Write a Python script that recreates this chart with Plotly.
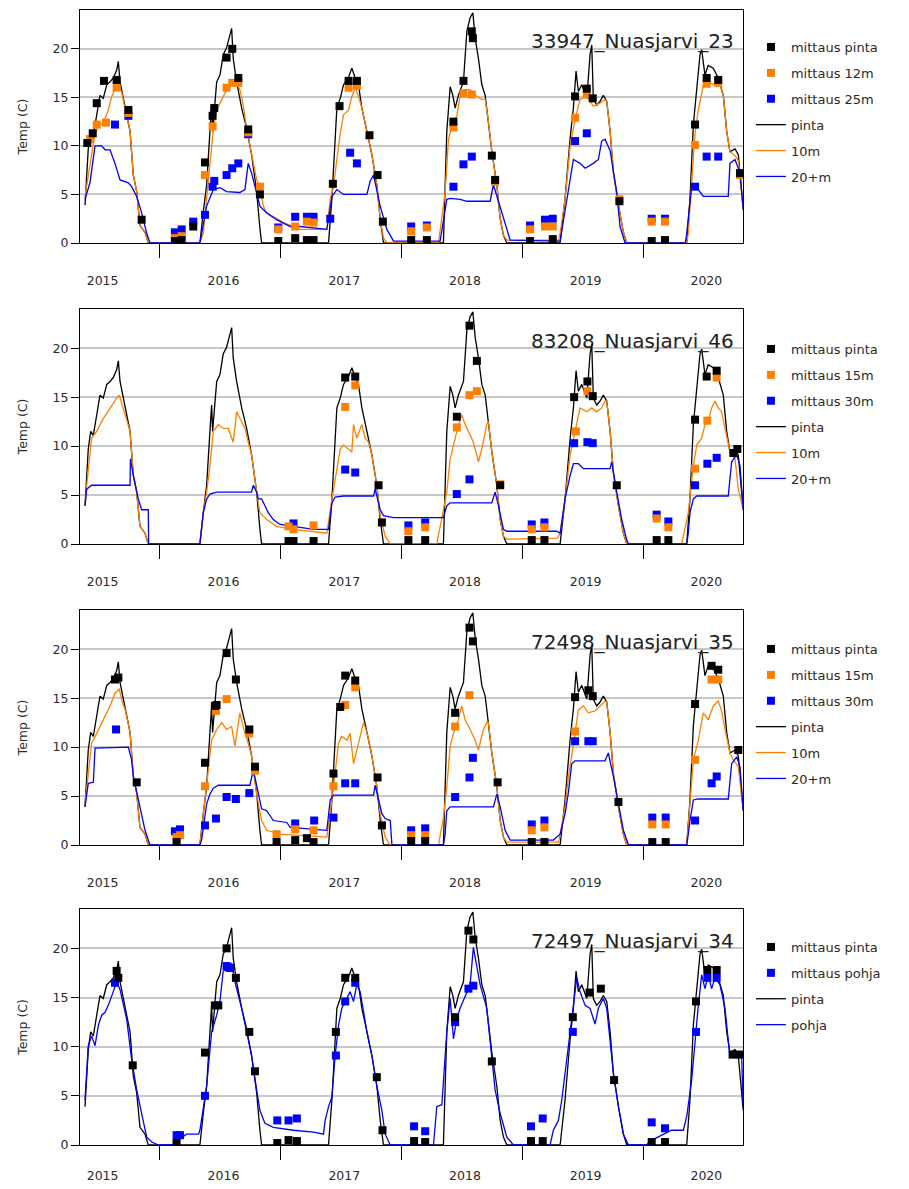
import plotly.graph_objects as go
from datetime import datetime, timedelta

# ---------------- DATA (decimal year, temperature C) ----------------
SURF = [(2015.379, 3.9), (2015.406, 9.7), (2015.426, 11.5), (2015.448, 11.1), (2015.476, 13.2), (2015.503, 15.2),
        (2015.530, 14.9), (2015.559, 16.3), (2015.586, 16.6), (2015.613, 17.0), (2015.641, 17.8), (2015.655, 18.7),
        (2015.669, 16.6), (2015.710, 13.9), (2015.752, 11.5), (2015.779, 7.0), (2015.807, 5.3), (2015.834, 1.8),
        (2015.876, 1.1), (2015.903, 0), (2016.331, 0), (2016.359, 3.2), (2016.387, 6.0), (2016.414, 11.5),
        (2016.428, 14.2), (2016.436, 11.5), (2016.470, 16.6), (2016.497, 17.3), (2016.524, 19.4), (2016.552, 20.1),
        (2016.566, 20.8), (2016.594, 22.1), (2016.607, 19.0), (2016.635, 16.6), (2016.677, 13.9), (2016.718, 11.8),
        (2016.759, 9.1), (2016.801, 5.3), (2016.828, 1.5), (2016.842, 0), (2017.394, 0), (2017.422, 4.6),
        (2017.463, 13.9), (2017.491, 14.9), (2017.518, 16.3), (2017.560, 17.1), (2017.587, 18.0), (2017.615, 17.0),
        (2017.642, 16.3), (2017.670, 13.9), (2017.712, 11.5), (2017.753, 9.1), (2017.794, 6.0), (2017.822, 2.5),
        (2017.849, 0), (2018.346, 0), (2018.374, 11.5), (2018.402, 16.1), (2018.424, 15.2), (2018.443, 13.9),
        (2018.470, 15.2), (2018.512, 16.6), (2018.540, 21.8), (2018.567, 23.2), (2018.590, 23.7), (2018.609, 21.1),
        (2018.636, 19.0), (2018.664, 16.3), (2018.692, 15.2), (2018.719, 12.5), (2018.747, 9.4), (2018.788, 6.0),
        (2018.816, 2.5), (2018.843, 0.8), (2018.871, 0), (2019.313, 0), (2019.354, 4.6), (2019.396, 10.8),
        (2019.423, 13.9), (2019.445, 17.7), (2019.464, 15.6), (2019.492, 16.3), (2019.534, 14.9), (2019.561, 19.4),
        (2019.575, 20.4), (2019.588, 14.9), (2019.616, 14.2), (2019.644, 14.6), (2019.671, 15.2), (2019.699, 14.6),
        (2019.727, 11.5), (2019.754, 7.3), (2019.796, 3.9), (2019.837, 1.1), (2019.865, 0), (2020.362, 0),
        (2020.389, 4.6), (2020.417, 12.2), (2020.445, 15.6), (2020.472, 19.4), (2020.486, 19.9), (2020.513, 17.3),
        (2020.540, 18.3), (2020.582, 18.0), (2020.623, 17.0), (2020.665, 15.2), (2020.693, 11.5), (2020.720, 9.4),
        (2020.762, 9.7), (2020.789, 9.1), (2020.830, 3.5)]

# Panel 1: 33947_Nuasjarvi_23
P1_10M = [(2015.379, 4.8), (2015.393, 5.8), (2015.406, 6.9), (2015.462, 11.3), (2015.490, 12.0), (2015.530, 12.4),
          (2015.572, 13.7), (2015.600, 15.1), (2015.627, 15.8), (2015.655, 16.3), (2015.683, 15.5), (2015.710, 13.9),
          (2015.752, 11.5), (2015.779, 7.0), (2015.807, 5.3), (2015.834, 1.8), (2015.876, 1.1), (2015.903, 0),
          (2016.331, 0), (2016.359, 1.0), (2016.387, 4.5), (2016.414, 7.9), (2016.442, 11.7), (2016.470, 13.7),
          (2016.511, 14.8), (2016.552, 15.8), (2016.594, 16.2), (2016.635, 16.5), (2016.662, 15.8), (2016.690, 14.2),
          (2016.718, 11.8), (2016.759, 9.1), (2016.801, 6.5), (2016.828, 5.8), (2016.856, 3.8), (2016.884, 3.1),
          (2016.939, 2.7), (2017.022, 2.1), (2017.160, 1.4), (2017.380, 1.4), (2017.408, 4.5), (2017.435, 5.8),
          (2017.463, 8.6), (2017.491, 11.3), (2017.518, 13.2), (2017.560, 13.7), (2017.587, 15.1), (2017.615, 16.0),
          (2017.642, 15.1), (2017.670, 13.9), (2017.712, 11.5), (2017.753, 9.1), (2017.794, 6.0), (2017.822, 2.5),
          (2017.849, 0.5), (2017.880, 0), (2018.305, 0), (2018.333, 2.7), (2018.360, 5.2), (2018.388, 10.7),
          (2018.415, 12.0), (2018.457, 13.1), (2018.484, 15.1), (2018.512, 15.8), (2018.567, 15.8), (2018.623, 15.1),
          (2018.664, 14.8), (2018.692, 14.8), (2018.719, 12.5), (2018.747, 9.4), (2018.788, 6.0), (2018.816, 2.5),
          (2018.843, 0.8), (2018.871, 0.3), (2019.300, 0.3), (2019.313, 1.0), (2019.354, 4.5), (2019.396, 10.0),
          (2019.437, 12.7), (2019.478, 14.8), (2019.534, 15.1), (2019.588, 14.1), (2019.644, 14.4), (2019.685, 14.8),
          (2019.699, 14.6), (2019.727, 11.5), (2019.754, 7.3), (2019.796, 3.9), (2019.837, 1.1), (2019.865, 0),
          (2020.362, 0), (2020.375, 1.0), (2020.403, 5.8), (2020.431, 11.3), (2020.458, 13.7), (2020.499, 16.2),
          (2020.555, 16.5), (2020.610, 16.2), (2020.637, 16.3), (2020.665, 15.2), (2020.693, 11.5), (2020.720, 9.4),
          (2020.762, 9.0), (2020.789, 8.5), (2020.830, 3.5)]
P1_20M = [(2015.379, 4.5), (2015.420, 6.2), (2015.462, 10.0), (2015.517, 10.0), (2015.545, 9.6), (2015.586, 9.6),
          (2015.627, 8.2), (2015.669, 6.5), (2015.738, 6.2), (2015.765, 5.8), (2015.807, 4.8), (2015.848, 3.1),
          (2015.890, 1.0), (2015.917, 0), (2016.331, 0), (2016.387, 3.8), (2016.442, 5.5), (2016.497, 5.7),
          (2016.552, 5.3), (2016.662, 5.2), (2016.704, 5.5), (2016.731, 8.2), (2016.759, 7.2), (2016.801, 5.3),
          (2016.828, 3.8), (2016.884, 3.1), (2016.966, 2.4), (2017.077, 1.7), (2017.160, 1.7), (2017.380, 1.4),
          (2017.422, 4.8), (2017.463, 5.5), (2017.518, 5.0), (2017.712, 5.0), (2017.739, 6.4), (2017.767, 7.0),
          (2017.822, 3.8), (2017.877, 1.4), (2017.932, 0.2), (2018.319, 0.2), (2018.374, 4.5), (2018.402, 4.6),
          (2018.484, 4.5), (2018.540, 4.3), (2018.733, 4.3), (2018.760, 6.0), (2018.816, 3.8), (2018.871, 1.4),
          (2018.899, 0.3), (2019.313, 0.2), (2019.354, 3.4), (2019.396, 6.9), (2019.423, 8.6), (2019.478, 8.2),
          (2019.520, 7.7), (2019.588, 8.2), (2019.630, 8.6), (2019.657, 10.5), (2019.685, 10.7), (2019.727, 9.5),
          (2019.754, 7.3), (2019.782, 5.2), (2019.809, 1.7), (2019.851, 0), (2020.350, 0), (2020.362, 1.0),
          (2020.403, 5.8), (2020.458, 5.5), (2020.499, 4.8), (2020.706, 4.8), (2020.720, 8.2), (2020.762, 8.6),
          (2020.803, 7.2), (2020.830, 3.4)]
P1_M_PINTA = [(2015.398, 10.3), (2015.443, 11.3), (2015.476, 14.4), (2015.536, 16.7), (2015.641, 16.8),
              (2015.738, 13.7), (2015.848, 2.4), (2016.124, 0.2), (2016.180, 0.3), (2016.276, 1.7), (2016.373, 8.3),
              (2016.436, 13.1), (2016.450, 13.9), (2016.552, 19.1), (2016.599, 20.0), (2016.649, 17.0),
              (2016.731, 11.7), (2016.828, 5.0), (2016.980, 0.2), (2017.118, 0.5), (2017.215, 0.3), (2017.270, 0.3),
              (2017.430, 6.1), (2017.485, 14.1), (2017.560, 16.7), (2017.629, 16.7), (2017.733, 11.1),
              (2017.800, 7.0), (2017.844, 2.2), (2018.079, 0.3), (2018.209, 0.3), (2018.429, 12.5), (2018.512, 16.7),
              (2018.581, 21.8), (2018.590, 21.1), (2018.747, 9.0), (2018.774, 6.5), (2019.064, 0.2), (2019.252, 0.4),
              (2019.437, 15.1), (2019.534, 15.9), (2019.583, 14.9), (2019.804, 4.3), (2020.072, 0.2),
              (2020.182, 0.3), (2020.431, 12.2), (2020.527, 17.0), (2020.623, 16.8), (2020.803, 7.2)]
P1_M_12M = [(2015.420, 10.7), (2015.476, 12.2), (2015.553, 12.4), (2015.641, 16.0), (2015.738, 13.4),
            (2016.124, 0.5), (2016.180, 0.7), (2016.373, 7.0), (2016.436, 12.0), (2016.552, 16.0), (2016.599, 16.5),
            (2016.649, 16.5), (2016.731, 11.4), (2016.828, 5.8), (2016.980, 1.4), (2017.118, 1.7), (2017.215, 2.2),
            (2017.270, 2.1), (2017.560, 16.0), (2017.629, 16.2), (2018.079, 1.2), (2018.209, 1.6), (2018.429, 11.9),
            (2018.512, 15.4), (2018.581, 15.3), (2018.774, 6.3), (2019.064, 1.4), (2019.188, 1.7), (2019.252, 1.7),
            (2019.437, 12.9), (2019.534, 15.3), (2019.804, 4.5), (2020.072, 2.2), (2020.182, 2.2), (2020.431, 10.1),
            (2020.527, 16.4), (2020.623, 16.5), (2020.803, 7.0)]
P1_M_25M = [(2015.627, 12.2), (2015.738, 13.1), (2016.124, 1.1), (2016.180, 1.4), (2016.276, 2.2), (2016.373, 2.9),
            (2016.436, 5.8), (2016.450, 6.4), (2016.552, 7.0), (2016.599, 7.7), (2016.649, 8.2), (2016.731, 11.2),
            (2016.980, 1.6), (2017.118, 2.7), (2017.215, 2.7), (2017.270, 2.7), (2017.408, 2.5), (2017.573, 9.3),
            (2017.629, 8.2), (2018.079, 1.7), (2018.209, 1.8), (2018.429, 5.8), (2018.512, 8.1), (2018.581, 8.9),
            (2019.064, 1.8), (2019.188, 2.4), (2019.252, 2.5), (2019.437, 10.5), (2019.534, 11.3), (2020.072, 2.5),
            (2020.182, 2.5), (2020.431, 5.8), (2020.527, 8.9), (2020.623, 8.9)]

# Panel 2: 83208_Nuasjarvi_46
P2_10M = [(2015.379, 3.9), (2015.393, 6.0), (2015.434, 10.8), (2015.476, 11.5), (2015.530, 12.8), (2015.586, 13.9),
          (2015.641, 14.9), (2015.663, 15.2), (2015.690, 14.0), (2015.724, 12.5), (2015.752, 11.5), (2015.779, 7.0),
          (2015.807, 5.3), (2015.834, 1.8), (2015.876, 1.1), (2015.903, 0), (2016.331, 0), (2016.359, 3.2),
          (2016.387, 5.3), (2016.414, 8.0), (2016.442, 11.5), (2016.483, 12.2), (2016.524, 11.8), (2016.566, 11.8),
          (2016.607, 10.4), (2016.635, 13.5), (2016.662, 12.8), (2016.704, 11.8), (2016.731, 10.4), (2016.759, 9.1),
          (2016.801, 5.3), (2016.828, 3.2), (2016.884, 2.5), (2016.966, 1.8), (2017.104, 1.5), (2017.242, 1.3),
          (2017.380, 1.1), (2017.422, 4.6), (2017.449, 6.6), (2017.491, 9.7), (2017.518, 10.1), (2017.560, 9.7),
          (2017.587, 9.4), (2017.601, 12.2), (2017.628, 10.8), (2017.670, 12.2), (2017.698, 10.8), (2017.725, 10.4),
          (2017.753, 9.1), (2017.794, 6.0), (2017.822, 2.9), (2017.863, 0.8), (2017.905, 0), (2018.291, 0),
          (2018.333, 2.9), (2018.374, 5.3), (2018.402, 8.7), (2018.429, 10.1), (2018.457, 11.5), (2018.497, 13.2),
          (2018.526, 12.2), (2018.553, 11.5), (2018.594, 10.4), (2018.636, 8.4), (2018.664, 9.7), (2018.705, 12.2),
          (2018.719, 12.5), (2018.747, 9.4), (2018.788, 6.0), (2018.816, 2.5), (2018.843, 0.8), (2018.871, 0.5),
          (2019.290, 0.6), (2019.313, 1.1), (2019.354, 4.6), (2019.396, 9.1), (2019.423, 10.8), (2019.451, 12.2),
          (2019.478, 13.9), (2019.534, 13.5), (2019.575, 13.9), (2019.616, 13.5), (2019.657, 13.9), (2019.685, 14.6),
          (2019.699, 14.6), (2019.727, 11.5), (2019.754, 7.3), (2019.796, 3.9), (2019.837, 1.1), (2019.865, 0),
          (2020.320, 0), (2020.334, 0.8), (2020.375, 3.2), (2020.417, 8.0), (2020.445, 10.1), (2020.486, 10.8),
          (2020.513, 12.2), (2020.540, 12.5), (2020.568, 13.9), (2020.596, 14.6), (2020.623, 13.9), (2020.651, 13.5),
          (2020.679, 11.8), (2020.720, 9.4), (2020.762, 8.7), (2020.789, 5.6), (2020.830, 3.5)]
P2_20M = [(2015.379, 3.9), (2015.393, 5.6), (2015.434, 6.0), (2015.752, 6.0), (2015.755, 8.7), (2015.779, 7.0),
          (2015.820, 4.6), (2015.848, 3.5), (2015.903, 3.5), (2015.906, 0), (2016.331, 0), (2016.359, 3.2),
          (2016.387, 4.6), (2016.414, 5.1), (2016.470, 5.3), (2016.759, 5.3), (2016.773, 6.0), (2016.801, 5.3),
          (2016.814, 4.6), (2016.842, 4.6), (2016.870, 3.9), (2016.897, 3.2), (2016.939, 2.5), (2016.994, 2.0),
          (2017.104, 1.8), (2017.270, 1.5), (2017.394, 1.5), (2017.422, 4.2), (2017.449, 4.8), (2017.518, 4.9),
          (2017.767, 4.9), (2017.780, 5.6), (2017.822, 3.5), (2017.849, 2.9), (2017.932, 2.7), (2018.346, 2.7),
          (2018.374, 3.9), (2018.402, 4.2), (2018.747, 4.2), (2018.774, 5.3), (2018.802, 3.9), (2018.843, 1.5),
          (2018.871, 1.3), (2019.285, 1.3), (2019.313, 1.1), (2019.354, 4.6), (2019.396, 7.0), (2019.423, 8.2),
          (2019.464, 8.2), (2019.506, 7.7), (2019.727, 7.7), (2019.740, 8.4), (2019.782, 5.3), (2019.823, 2.5),
          (2019.865, 0.4), (2019.880, 0), (2020.362, 0), (2020.375, 1.1), (2020.389, 3.2), (2020.417, 4.6),
          (2020.445, 4.9), (2020.706, 4.9), (2020.734, 8.4), (2020.776, 9.1), (2020.803, 8.0), (2020.830, 3.5)]
P2_M_PINTA = [(2017.063, 0.3), (2017.104, 0.3), (2017.270, 0.3), (2017.532, 17.0), (2017.615, 17.1),
              (2017.808, 6.0), (2017.836, 2.2), (2018.056, 0.4), (2018.195, 0.4), (2018.457, 13.0), (2018.562, 22.3),
              (2018.623, 18.7), (2018.816, 6.0), (2019.078, 0.4), (2019.183, 0.4), (2019.429, 15.0),
              (2019.539, 16.6), (2019.583, 15.1), (2019.782, 6.0), (2020.113, 0.4), (2020.210, 0.4),
              (2020.431, 12.7), (2020.527, 17.1), (2020.610, 17.7), (2020.748, 9.3), (2020.781, 9.7)]
P2_M_15M = [(2017.063, 1.8), (2017.104, 1.5), (2017.270, 1.9), (2017.532, 14.0), (2017.615, 16.2), (2018.056, 1.3),
            (2018.195, 1.7), (2018.457, 11.9), (2018.562, 15.2), (2018.623, 15.6), (2018.816, 6.1), (2019.078, 1.5),
            (2019.183, 1.7), (2019.443, 11.5), (2019.539, 15.6), (2020.113, 2.6), (2020.210, 1.7), (2020.431, 7.7),
            (2020.533, 12.6), (2020.610, 17.0)]
P2_M_30M = [(2017.104, 2.1), (2017.532, 7.6), (2017.615, 7.3), (2018.056, 1.9), (2018.195, 2.2), (2018.457, 5.1),
            (2018.562, 6.6), (2019.078, 2.0), (2019.183, 2.2), (2019.429, 10.3), (2019.539, 10.4), (2019.583, 10.3),
            (2020.113, 3.0), (2020.210, 2.3), (2020.431, 6.0), (2020.533, 8.2), (2020.610, 8.8)]

# Panel 3: 72498_Nuasjarvi_35
P3_10M = [(2015.379, 4.2), (2015.406, 7.3), (2015.434, 10.4), (2015.476, 11.4), (2015.530, 12.8), (2015.586, 14.2),
          (2015.627, 15.5), (2015.663, 15.9), (2015.690, 14.5), (2015.710, 13.9), (2015.752, 11.5), (2015.779, 7.0),
          (2015.807, 5.3), (2015.834, 1.8), (2015.876, 1.1), (2015.903, 0), (2016.331, 0), (2016.359, 3.2),
          (2016.387, 5.9), (2016.428, 10.7), (2016.470, 11.8), (2016.511, 12.5), (2016.552, 11.8), (2016.594, 12.1),
          (2016.621, 10.1), (2016.662, 13.5), (2016.704, 11.4), (2016.731, 10.4), (2016.759, 9.1), (2016.801, 5.2),
          (2016.842, 2.5), (2016.884, 1.5), (2016.994, 1.1), (2017.104, 1.0), (2017.380, 0.8), (2017.422, 4.6),
          (2017.449, 7.3), (2017.477, 10.4), (2017.504, 11.1), (2017.546, 10.7), (2017.573, 11.4), (2017.601, 8.3),
          (2017.642, 10.4), (2017.684, 12.5), (2017.712, 11.5), (2017.753, 9.1), (2017.794, 6.0), (2017.822, 3.2),
          (2017.863, 0.8), (2017.905, 0), (2018.305, 0), (2018.346, 2.8), (2018.374, 5.9), (2018.402, 10.1),
          (2018.429, 11.4), (2018.470, 12.8), (2018.497, 14.2), (2018.526, 12.8), (2018.567, 11.8), (2018.609, 10.7),
          (2018.636, 9.7), (2018.677, 11.8), (2018.705, 12.5), (2018.719, 12.5), (2018.747, 9.4), (2018.788, 6.0),
          (2018.816, 2.5), (2018.843, 0.8), (2018.871, 0.3), (2019.300, 0.3), (2019.313, 1.1), (2019.354, 3.9),
          (2019.382, 7.0), (2019.409, 9.0), (2019.437, 11.4), (2019.464, 13.8), (2019.506, 14.2), (2019.547, 13.5),
          (2019.602, 13.7), (2019.644, 14.2), (2019.685, 14.7), (2019.699, 14.6), (2019.727, 11.5), (2019.754, 7.3),
          (2019.796, 3.9), (2019.837, 1.1), (2019.865, 0), (2020.362, 0), (2020.389, 3.9), (2020.417, 8.7),
          (2020.458, 10.7), (2020.499, 13.5), (2020.540, 12.8), (2020.582, 14.2), (2020.623, 14.7), (2020.651, 13.7),
          (2020.679, 11.8), (2020.720, 9.4), (2020.748, 8.7), (2020.789, 8.0), (2020.830, 3.5)]
P3_20M = [(2015.379, 3.9), (2015.406, 6.3), (2015.448, 6.4), (2015.462, 9.9), (2015.738, 10.0), (2015.765, 8.7),
          (2015.779, 7.0), (2015.834, 3.9), (2015.876, 1.5), (2015.917, 0), (2016.331, 0), (2016.345, 0.5),
          (2016.387, 4.2), (2016.414, 5.2), (2016.442, 5.8), (2016.483, 6.1), (2016.745, 6.1), (2016.773, 7.7),
          (2016.814, 5.4), (2016.842, 3.7), (2016.884, 3.5), (2016.939, 2.5), (2017.049, 2.3), (2017.077, 1.8),
          (2017.380, 1.5), (2017.408, 4.6), (2017.435, 5.1), (2017.767, 5.1), (2017.780, 6.1), (2017.836, 3.2),
          (2017.863, 2.7), (2017.905, 2.5), (2017.919, 0), (2018.346, 0), (2018.360, 1.1), (2018.374, 3.5),
          (2018.402, 3.9), (2018.760, 3.9), (2018.788, 5.2), (2018.816, 3.9), (2018.857, 1.5), (2018.899, 0.5),
          (2019.257, 0.5), (2019.313, 1.1), (2019.354, 3.2), (2019.382, 5.4), (2019.409, 8.3), (2019.437, 8.6),
          (2019.685, 8.6), (2019.712, 9.4), (2019.754, 7.0), (2019.796, 4.2), (2019.837, 1.5), (2019.879, 0),
          (2020.362, 0), (2020.375, 1.1), (2020.389, 2.5), (2020.417, 4.6), (2020.458, 4.7), (2020.706, 4.7),
          (2020.734, 8.3), (2020.776, 9.0), (2020.803, 8.0), (2020.830, 3.5)]
P3_M_PINTA = [(2015.627, 16.9), (2015.655, 17.1), (2015.807, 6.4), (2016.138, 0.3), (2016.373, 8.4),
              (2016.455, 14.2), (2016.469, 14.3), (2016.552, 19.6), (2016.629, 16.9), (2016.740, 11.8),
              (2016.787, 8.0), (2016.966, 0.3), (2017.118, 0.5), (2017.215, 0.7), (2017.270, 0.3), (2017.435, 7.3),
              (2017.491, 14.1), (2017.532, 17.3), (2017.615, 16.8), (2017.800, 6.9), (2017.836, 2.0),
              (2018.079, 0.4), (2018.195, 0.4), (2018.443, 13.5), (2018.562, 22.2), (2018.590, 20.8),
              (2018.795, 6.4), (2019.078, 0.3), (2019.183, 0.3), (2019.437, 15.1), (2019.547, 15.8),
              (2019.583, 15.2), (2019.796, 4.4), (2020.077, 0.3), (2020.188, 0.3), (2020.431, 14.4),
              (2020.568, 18.3), (2020.623, 17.9), (2020.789, 9.7)]
P3_M_15M = [(2016.138, 0.8), (2016.166, 1.0), (2016.373, 6.0), (2016.464, 13.7), (2016.552, 14.9), (2016.740, 11.4),
            (2016.787, 7.6), (2016.966, 1.1), (2017.118, 1.6), (2017.270, 1.5), (2017.435, 6.0), (2017.532, 14.3),
            (2017.615, 16.1), (2018.079, 1.0), (2018.195, 1.0), (2018.443, 12.1), (2018.562, 15.3), (2019.078, 1.5),
            (2019.183, 1.8), (2019.437, 11.6), (2020.077, 2.1), (2020.188, 2.1), (2020.431, 8.7), (2020.568, 16.9),
            (2020.623, 16.9)]
P3_M_30M = [(2015.636, 11.8), (2016.124, 1.4), (2016.166, 1.6), (2016.373, 2.0), (2016.464, 2.7), (2016.552, 4.9),
            (2016.629, 4.7), (2016.740, 5.3), (2017.118, 2.2), (2017.275, 2.5), (2017.435, 2.8), (2017.532, 6.3),
            (2017.615, 6.3), (2018.079, 1.5), (2018.195, 1.7), (2018.443, 4.9), (2018.562, 6.9), (2018.590, 8.9),
            (2019.078, 2.1), (2019.183, 2.5), (2019.437, 10.6), (2019.547, 10.6), (2019.583, 10.6), (2020.077, 2.8),
            (2020.188, 2.8), (2020.431, 2.5), (2020.568, 6.3), (2020.610, 7.0)]

# Panel 4: 72497_Nuasjarvi_34
P4_POHJA = [(2015.379, 4.6), (2015.406, 10.1), (2015.434, 11.1), (2015.462, 10.1), (2015.490, 12.2), (2015.517, 13.2),
            (2015.545, 13.5), (2015.572, 14.2), (2015.613, 15.6), (2015.641, 16.6), (2015.669, 15.8), (2015.724, 12.8),
            (2015.765, 8.7), (2015.807, 5.6), (2015.848, 3.2), (2015.890, 0.8), (2015.931, 0.3), (2015.986, 0),
            (2016.100, 0), (2016.140, 0.4), (2016.220, 1.1), (2016.320, 1.1), (2016.331, 1.5), (2016.359, 3.9),
            (2016.387, 6.0), (2016.428, 11.5), (2016.470, 13.2), (2016.497, 14.6), (2016.524, 17.7), (2016.566, 17.8),
            (2016.594, 18.5), (2016.621, 16.6), (2016.677, 13.9), (2016.718, 11.5), (2016.759, 9.1), (2016.801, 5.6),
            (2016.828, 3.5), (2016.870, 2.2), (2016.939, 1.8), (2017.104, 1.5), (2017.270, 1.3), (2017.352, 1.1),
            (2017.366, 2.5), (2017.394, 3.9), (2017.422, 4.9), (2017.449, 9.1), (2017.477, 12.2), (2017.504, 13.9),
            (2017.546, 14.9), (2017.573, 15.6), (2017.601, 14.6), (2017.628, 16.3), (2017.656, 15.6), (2017.712, 11.5),
            (2017.753, 9.1), (2017.794, 6.0), (2017.836, 3.5), (2017.863, 1.1), (2017.905, 0), (2018.264, 0),
            (2018.291, 3.9), (2018.333, 4.1), (2018.374, 11.5), (2018.402, 14.9), (2018.429, 10.8), (2018.457, 12.8),
            (2018.484, 13.9), (2018.526, 15.2), (2018.567, 16.3), (2018.594, 20.1), (2018.623, 18.3), (2018.650, 16.3),
            (2018.705, 13.9), (2018.747, 8.4), (2018.774, 5.6), (2018.816, 3.2), (2018.843, 2.0), (2018.871, 0.8),
            (2018.926, 0), (2019.230, 0), (2019.257, 1.5), (2019.299, 2.5), (2019.327, 4.6), (2019.354, 7.3),
            (2019.382, 10.1), (2019.423, 13.9), (2019.451, 17.0), (2019.478, 15.6), (2019.520, 14.2), (2019.561, 13.9),
            (2019.602, 12.3), (2019.630, 13.9), (2019.671, 14.9), (2019.699, 13.9), (2019.754, 7.3), (2019.796, 3.9),
            (2019.837, 1.1), (2019.879, 0), (2020.030, 0), (2020.058, 0.4), (2020.168, 1.1), (2020.237, 1.5),
            (2020.334, 1.5), (2020.362, 2.9), (2020.403, 6.6), (2020.431, 10.8), (2020.458, 14.2), (2020.486, 17.3),
            (2020.513, 15.9), (2020.540, 17.3), (2020.568, 15.9), (2020.596, 17.0), (2020.637, 16.3), (2020.679, 13.9),
            (2020.720, 8.9), (2020.776, 8.9), (2020.817, 8.9), (2020.830, 3.9)]
P4_M_PINTA = [(2015.641, 17.7), (2015.655, 17.0), (2015.774, 8.1), (2016.138, 0.2), (2016.373, 9.4),
              (2016.455, 14.2), (2016.483, 14.2), (2016.552, 20.0), (2016.629, 17.0), (2016.740, 11.5),
              (2016.787, 7.5), (2016.972, 0.2), (2017.063, 0.5), (2017.132, 0.4), (2017.455, 11.5),
              (2017.532, 17.0), (2017.615, 17.0), (2017.794, 6.9), (2017.841, 1.5), (2018.103, 0.4),
              (2018.195, 0.3), (2018.443, 13.0), (2018.553, 21.8), (2018.594, 20.9), (2018.747, 8.5),
              (2019.072, 0.4), (2019.169, 0.4), (2019.418, 13.0), (2019.556, 15.5), (2019.650, 15.9),
              (2019.760, 6.6), (2020.072, 0.3), (2020.182, 0.3), (2020.439, 14.6), (2020.533, 17.8),
              (2020.610, 17.8), (2020.742, 9.2), (2020.803, 9.2)]
P4_M_POHJA = [(2015.627, 16.5), (2016.138, 1.0), (2016.166, 1.0), (2016.373, 5.0), (2016.552, 18.2),
              (2016.580, 18.0), (2016.972, 2.5), (2017.063, 2.5), (2017.132, 2.7), (2017.455, 9.1), (2017.532, 14.6),
              (2017.615, 16.5), (2018.103, 1.9), (2018.195, 1.4), (2018.443, 12.5), (2018.553, 15.9),
              (2018.594, 16.2), (2019.072, 1.9), (2019.169, 2.7), (2019.418, 11.5), (2020.072, 2.3),
              (2020.182, 1.7), (2020.439, 11.5), (2020.533, 17.0), (2020.610, 17.0)]

TITLES = ["33947_Nuasjarvi_23", "83208_Nuasjarvi_46", "72498_Nuasjarvi_35", "72497_Nuasjarvi_34"]
X_RANGE = (2015.3375, 2020.828)
Y_TICKS = [0, 5, 10, 15, 20]

# ---------------- helpers ----------------
def to_date(y):
    yr = int(y)
    return datetime(yr, 1, 1) + timedelta(days=(y - yr) * 365.25)

def split(pairs):
    return [to_date(p[0]) for p in pairs], [p[1] for p in pairs]

BLACK, ORANGE, BLUE = "#000000", "#FF8000", "#0000FF"
FONT = "DejaVu Sans"
TXT = "#2a2a2a"

panels = [
    dict(lines=[("pinta", SURF, BLACK), ("10m", P1_10M, ORANGE), ("20+m", P1_20M, BLUE)],
         marks=[("mittaus 25m", P1_M_25M, BLUE, 3), ("mittaus 12m", P1_M_12M, ORANGE, 2),
                ("mittaus pinta", P1_M_PINTA, BLACK, 1)]),
    dict(lines=[("pinta", SURF, BLACK), ("10m", P2_10M, ORANGE), ("20+m", P2_20M, BLUE)],
         marks=[("mittaus 30m", P2_M_30M, BLUE, 3), ("mittaus 15m", P2_M_15M, ORANGE, 2),
                ("mittaus pinta", P2_M_PINTA, BLACK, 1)]),
    dict(lines=[("pinta", SURF, BLACK), ("10m", P3_10M, ORANGE), ("20+m", P3_20M, BLUE)],
         marks=[("mittaus 30m", P3_M_30M, BLUE, 3), ("mittaus 15m", P3_M_15M, ORANGE, 2),
                ("mittaus pinta", P3_M_PINTA, BLACK, 1)]),
    dict(lines=[("pinta", SURF, BLACK), ("pohja", P4_POHJA, BLUE)],
         marks=[("mittaus pohja", P4_M_POHJA, BLUE, 2), ("mittaus pinta", P4_M_PINTA, BLACK, 1)]),
]

# pixel layout
W, H = 909, 1189
PL, PR = 80, 743
TOP, BOT = 10, 1145
panel_px = [(10, 243), (309, 544), (610, 845), (909, 1145)]
legend_top_px = [32, 334, 634, 932]
label_standoff = [12, 12, 12, 5]

def py(px):
    return (BOT - px) / (BOT - TOP)

fig = go.Figure()
layout = {}
for i, p in enumerate(panels):
    n = i + 1
    xa = "x" if n == 1 else f"x{n}"
    ya = "y" if n == 1 else f"y{n}"
    lg = "legend" if n == 1 else f"legend{n}"
    nmarks = len(p["marks"])
    for j, (name, data, col) in enumerate(p["lines"]):
        x, y = split(data)
        fig.add_trace(go.Scatter(x=x, y=y, mode="lines", name=name, line=dict(color=col, width=1.3),
                                 xaxis=xa, yaxis=ya, legend=lg, legendrank=nmarks + j + 1,
                                 legendgroup=f"g{n}_{name}"))
    for name, data, col, rank in p["marks"]:
        x, y = split(data)
        fig.add_trace(go.Scatter(x=x, y=y, mode="markers", name=name,
                                 marker=dict(symbol="square", size=8, color=col, line=dict(width=0)),
                                 xaxis=xa, yaxis=ya, legend=lg, legendrank=rank,
                                 legendgroup=f"g{n}_{name}"))
    top_px, bot_px = panel_px[i]
    key_x = "xaxis" if n == 1 else f"xaxis{n}"
    key_y = "yaxis" if n == 1 else f"yaxis{n}"
    layout[key_x] = dict(
        type="date", range=[to_date(X_RANGE[0]), to_date(X_RANGE[1])], anchor=ya, automargin=False,
        domain=[0, 1], dtick="M12", tick0="2015-01-01", ticklabelmode="period", tickformat="%Y",
        ticks="outside", ticklen=14, tickwidth=1.2, tickcolor="#000000", ticklabelstandoff=label_standoff[i],
        ticklabelshift=3,
        showgrid=False, showline=True, linecolor="#000000", linewidth=1.2, mirror=True, zeroline=False,
        tickfont=dict(family=FONT, size=12.5, color=TXT))
    layout[key_y] = dict(
        range=[0, 24], domain=[py(bot_px), py(top_px)], anchor=xa, tickvals=Y_TICKS, automargin=False,
        ticks="outside", ticklen=8, tickcolor="#000000", showgrid=True, gridcolor="#c8c8c8", gridwidth=1.5,
        showline=True, linecolor="#000000", linewidth=1.2, mirror=True, zeroline=False,
        tickfont=dict(family=FONT, size=12.5, color=TXT),
        title=dict(text="Temp (C)", font=dict(family=FONT, size=12.5, color=TXT), standoff=22))
    layout[lg] = dict(x=1.012, xanchor="left", y=py(legend_top_px[i]), yanchor="top",
                      traceorder="grouped", tracegroupgap=6, bgcolor="rgba(0,0,0,0)",
                      font=dict(family=FONT, size=13, color=TXT), itemwidth=30)
    fig.add_annotation(text=TITLES[i], xref=f"{xa} domain", yref=f"{ya} domain", x=0.99, y=0.865,
                       xanchor="right", yanchor="middle", showarrow=False,
                       font=dict(family=FONT, size=20, color="#222222"))

fig.update_layout(width=W, height=H, margin=dict(l=PL, r=W - PR, t=TOP, b=H - BOT, autoexpand=False),
                  paper_bgcolor="white", plot_bgcolor="white", showlegend=True, **layout)
fig.write_html("out.html")
